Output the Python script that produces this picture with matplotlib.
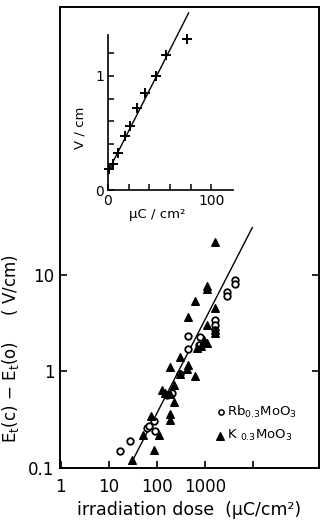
import numpy as np
import matplotlib
matplotlib.use("Agg")
import matplotlib.pyplot as plt

# inset data (linear)
ins_x = [1, 5, 10, 16, 21, 28, 36, 46, 56, 76]
ins_y = [0.18, 0.23, 0.32, 0.47, 0.56, 0.72, 0.85, 1.0, 1.18, 1.32]
ins_fit_x = [0, 78]
ins_fit_y = [0.16, 1.55]

# main data (log-log)
rb_x = [17, 28, 63, 68, 87, 91, 163, 207, 307, 443, 443, 750, 770,
        1570, 1570, 1570, 2820, 2820, 4200, 4200]
rb_y = [0.15, 0.19, 0.26, 0.275, 0.31, 0.24, 0.57, 0.6, 0.95, 1.72, 2.35, 1.9, 2.3,
        3.4, 3.0, 2.7, 6.6, 6.0, 8.8, 8.0]
k_x = [1570, 1090, 1090, 610, 443, 1570, 1090, 1570, 1570, 800, 930, 1090, 680,
       307, 190, 443, 410, 307, 610, 129, 150, 225, 190, 225, 183, 183,
       74, 50, 110, 87, 30]
k_y = [22, 7.7, 7.2, 5.4, 3.7, 4.5, 3.0, 2.7, 2.5, 1.82, 2.1, 1.98, 1.74,
       1.4, 1.11, 1.17, 1.05, 0.95, 0.89, 0.65, 0.6, 0.73, 0.58, 0.48, 0.365, 0.316,
       0.343, 0.221, 0.221, 0.155, 0.122]
fit_x = [31, 9500]
fit_y = [0.119, 31]

W, H = 327, 527
fig = plt.figure(figsize=(W / 100, H / 100), dpi=100)
plt.rcParams['font.family'] = ['DejaVu Sans']

ax = fig.add_axes([60 / W, 59 / H, 259 / W, 461 / H])
ax.set_xscale('log')
ax.set_yscale('log')
ax.plot(fit_x, fit_y, color='black', lw=1.0)
ax.scatter(rb_x, rb_y, s=22, facecolors='white', edgecolors='black', linewidths=1.3,
           marker='o', zorder=3)
ax.scatter(k_x, k_y, s=30, color='black', marker='^', zorder=3)
ax.set_xlim(0.97, 2.3e5)
ax.set_ylim(0.1, 5980)
ax.set_xticks([1, 10, 100, 1000, 10000])
ax.set_xticklabels(['1', '10', '100', '1000', ''])
ax.set_yticks([0.1, 1, 10])
ax.set_yticklabels(['0.1', '1', '10'])
ax.minorticks_off()
ax.tick_params(direction='in', length=5, width=1.2, labelsize=12, right=True,
               pad=4)
ax.tick_params(axis='x', pad=7)
for s in ax.spines.values():
    s.set_linewidth(1.4)
ax.set_xlabel('irradiation dose  (μC/cm²)', fontsize=12.5, labelpad=4)
ax.set_ylabel('E$_\\mathregular{t}$(c) − E$_\\mathregular{t}$(o)     ( V/cm)',
              fontsize=12, labelpad=2)
ax.yaxis.set_label_coords(-0.15, 0.26)

# legend
ax.scatter([2150], [0.377], s=14, facecolors='white', edgecolors='black',
           linewidths=1.1, marker='o')
ax.scatter([2070], [0.216], s=30, color='black', marker='^')
ax.text(2900, 0.377, 'Rb$_{0.3}$MoO$_3$', fontsize=9.5, va='center')
ax.text(2900, 0.216, 'K $_{0.3}$MoO$_3$', fontsize=9.5, va='center')

# inset
ins = fig.add_axes([108 / W, (H - 190) / H, 125 / W, 177 / H])
ins.plot(ins_fit_x, ins_fit_y, color='black', lw=1.0, clip_on=False)
ins.scatter(ins_x, ins_y, s=45, color='black', marker='+', linewidths=1.4,
            clip_on=False, zorder=3)
ins.set_xlim(0, 121)
ins.set_ylim(0, 1.55)
ins.spines['top'].set_visible(False)
ins.spines['right'].set_visible(False)
ins.spines['left'].set_bounds(0, 1.36)
ins.spines['left'].set_linewidth(1.2)
ins.spines['bottom'].set_linewidth(1.2)
ins.patch.set_alpha(0)
ins.set_xticks([0, 20, 40, 60, 80, 100])
ins.set_xticklabels(['0', '', '', '', '', '100'])
ins.set_yticks([0, 0.2, 0.4, 0.6, 0.8, 1.0, 1.2])
ins.set_yticklabels(['0', '', '', '', '', '1', ''])
ins.tick_params(direction='in', length=4, width=1.1, labelsize=10, pad=3)
ins.set_xlabel('μC / cm²', fontsize=9.5, labelpad=0)
ins.xaxis.set_label_coords(0.39, -0.1)
ins.set_ylabel('V / cm', fontsize=9.5, labelpad=2)
ins.yaxis.set_label_coords(-0.17, 0.35)

fig.savefig('out.png', dpi=100)
